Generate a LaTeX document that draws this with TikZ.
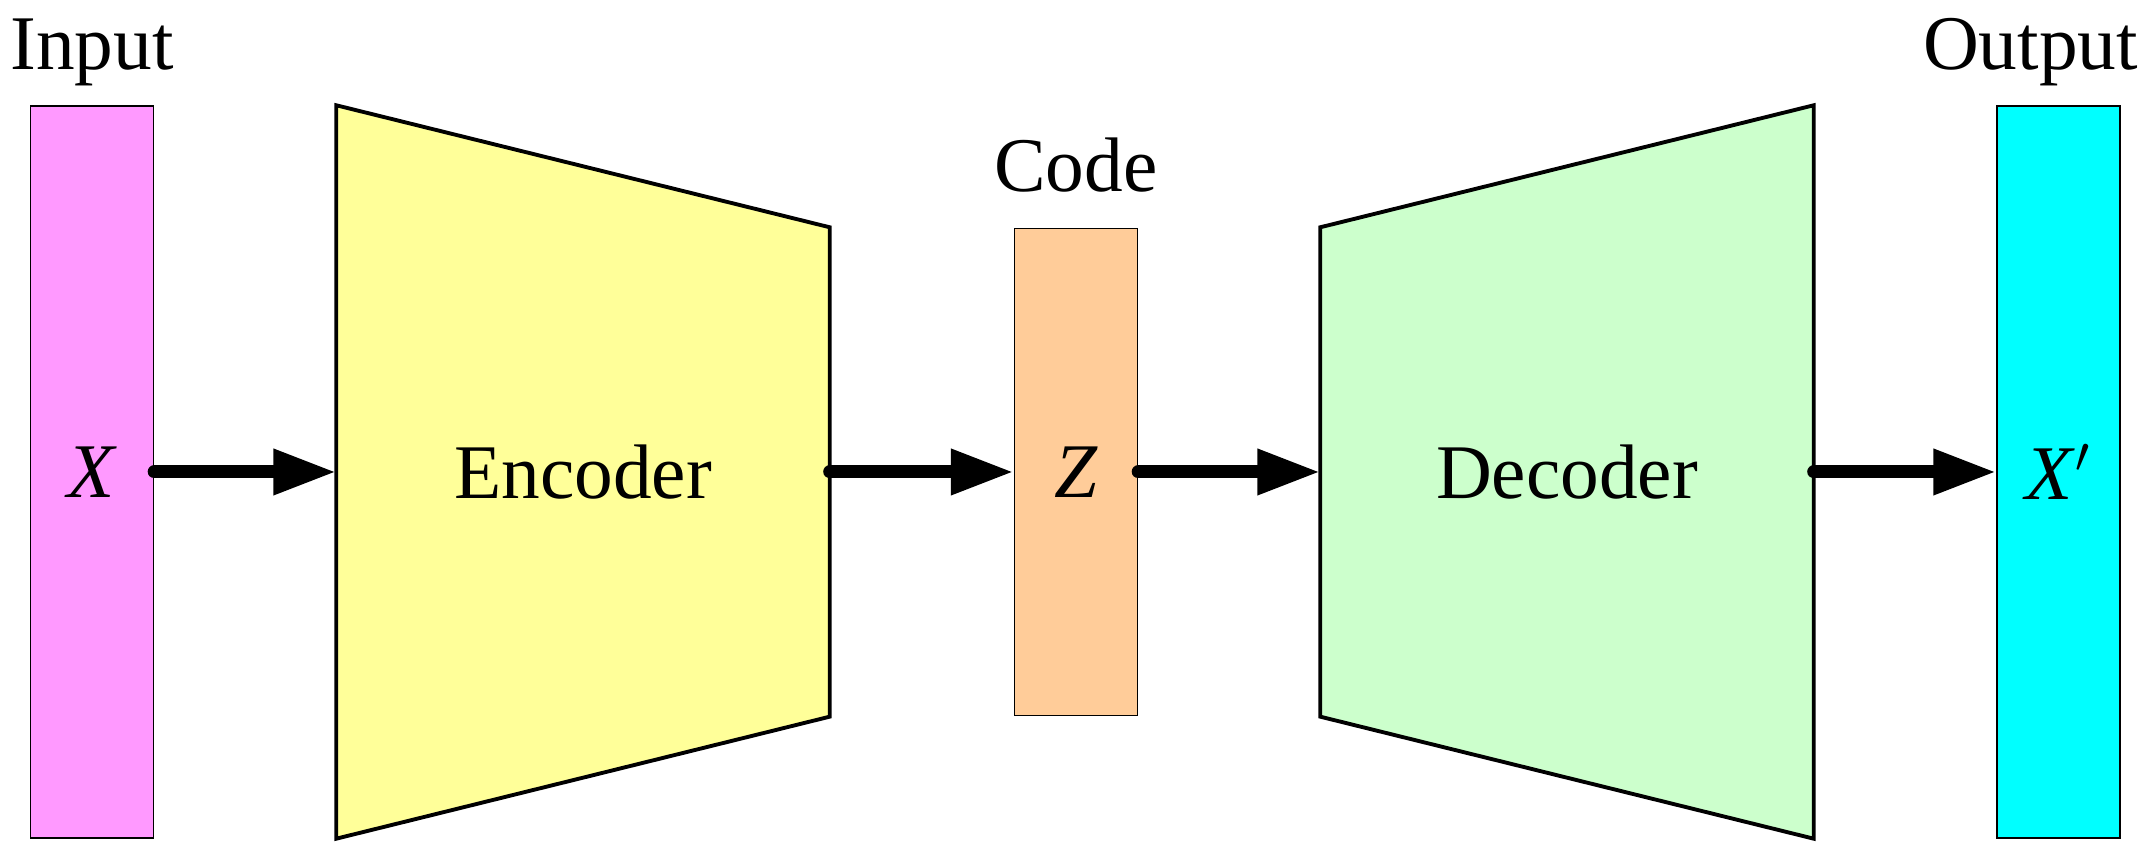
\documentclass[tikz,border=0pt]{standalone}
\usepackage{fontspec}
\setmainfont{Liberation Serif}
\usetikzlibrary{arrows.meta,positioning,calc}

\definecolor{inpink}{HTML}{FF99FF}
\definecolor{encyellow}{HTML}{FFFF99}
\definecolor{codeorange}{HTML}{FFCC99}
\definecolor{decgreen}{HTML}{CCFFCC}
\definecolor{outcyan}{HTML}{00FFFF}

\tikzset{
  bar/.style={draw,line width=0.4pt,minimum width=1.23cm,minimum height=7.32cm,inner sep=0pt},
  coder/.style={minimum width=4.92cm,minimum height=7.32cm,inner sep=0pt},
  trap/.style={draw,line width=1.1pt,line join=miter},
  flow/.style={line width=3.7pt,line cap=round,-{Triangle[length=6.3mm,width=4.3mm]}},
  lbl/.style={font=\fontsize{22}{26}\selectfont},
}

\begin{document}
\begin{tikzpicture}[lbl]
\useasboundingbox (0,0) rectangle (21.49,8.61);

\node[bar,fill=inpink] (inp) at (0.92,3.89) {\textit{X}};
\node[coder] (enc) at (5.83,3.89) {};
\node[bar,fill=codeorange,minimum height=4.87cm] (code) at (10.76,3.89) {\textit{Z}};
\node[coder] (dec) at (15.67,3.89) {};
\node[bar,fill=outcyan] (out) at (20.585,3.89) {\textit{X}$^{\prime}$};

\filldraw[trap,fill=encyellow] (enc.north west) -- (enc.south west) -- ($(enc.south east)+(0,1.22)$) -- ($(enc.north east)-(0,1.22)$) -- cycle;
\filldraw[trap,fill=decgreen] ($(dec.north west)-(0,1.22)$) -- ($(dec.south west)+(0,1.22)$) -- (dec.south east) -- (dec.north east) -- cycle;
\node (enctxt) at (enc) {Encoder};
\node (dectxt) at (dec) {Decoder};

\node[above=3.6mm of inp,anchor=base] (inlbl) {Input};
\node[above=3.6mm of code,anchor=base] (codelbl) {Code};
\node[above=3.6mm of out,anchor=base,xshift=-2.8mm] (outlbl) {Output};

\draw[flow] (inp.east) -- (enc.west);
\draw[flow] (enc.east) -- (code.west);
\draw[flow] (code.east) -- (dec.west);
\draw[flow] (dec.east) -- (out.west);
\end{tikzpicture}
\end{document}
